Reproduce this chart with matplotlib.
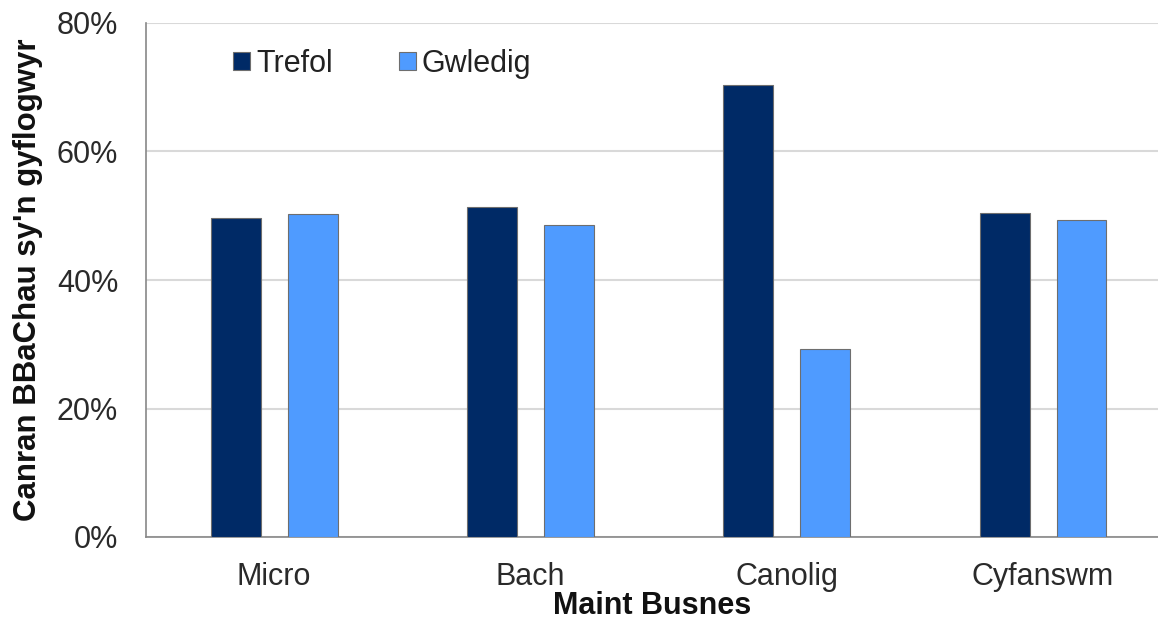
import matplotlib
matplotlib.use("Agg")
import matplotlib.pyplot as plt
import numpy as np
from matplotlib.ticker import FuncFormatter

categories = ["Micro", "Bach", "Canolig", "Cyfanswm"]
trefol = [49.7, 51.4, 70.4, 50.5]
gwledig = [50.3, 48.5, 29.2, 49.4]
series_names = ["Trefol", "Gwledig"]

plt.rcParams['font.family'] = ['Liberation Sans', 'DejaVu Sans']

W, H = 1158, 622
fig = plt.figure(figsize=(W/100, H/100), dpi=100)
left, right, top, bottom = 146, 1158, 23, 537
ax = fig.add_axes([left/W, 1-bottom/H, (right-left)/W, (bottom-top)/H])

x = np.arange(len(categories))
bw = 0.195
off = 0.150
ax.bar(x - off, trefol, bw, color="#002A66", edgecolor="#6e6e6e", linewidth=0.8, label=series_names[0], zorder=3)
ax.bar(x + off, gwledig, bw, color="#4F9BFF", edgecolor="#6e6e6e", linewidth=0.8, label=series_names[1], zorder=3)

ax.set_xlim(-0.5, -0.5 + (right-left)/256.3)
ax.set_ylim(0, 80)
ax.set_yticks([0, 20, 40, 60, 80])
ax.yaxis.set_major_formatter(FuncFormatter(lambda v, p: f"{int(v)}%"))
ax.grid(axis="y", color="#d9d9d9", linewidth=1.5, zorder=0)
ax.set_xticks(x)
ax.set_xticklabels(categories)
ax.tick_params(axis="both", length=0, labelsize=22, colors="#2a2a2a")
ax.tick_params(axis="x", pad=18)
ax.tick_params(axis="y", pad=20)
for s in ["top", "right"]:
    ax.spines[s].set_visible(False)
for s in ["left", "bottom"]:
    ax.spines[s].set_color("#888888")
    ax.spines[s].set_linewidth(1.2)

ax.set_xlabel("Maint Busnes", fontsize=22, fontweight="bold", labelpad=-1, color="#111111")
ax.set_ylabel("Canran BBaChau sy'n gyflogwyr", fontsize=22.5, fontweight="bold", labelpad=10, color="#111111")

leg = ax.legend(loc="upper left", bbox_to_anchor=((233-left)/(right-left), 0.95), ncol=2, frameon=False,
                fontsize=22, handlelength=0.56, handleheight=0.56, handletextpad=0.2,
                columnspacing=2.15, borderpad=0, borderaxespad=0)
for t in leg.get_texts():
    t.set_color("#222222")

fig.savefig("out.png", dpi=100)
